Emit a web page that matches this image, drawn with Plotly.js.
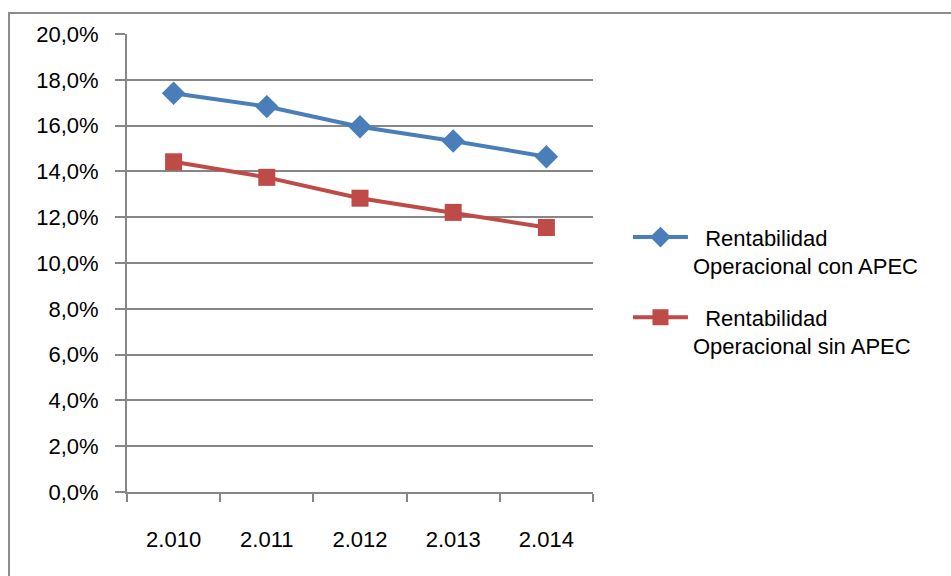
<!DOCTYPE html>
<html><head><meta charset="utf-8">
<script src="https://cdn.plot.ly/plotly-3.0.1.min.js"></script>
<style>
body{margin:0;padding:0;background:#fff;overflow:hidden;}
#frame{position:absolute;left:8px;top:12px;width:1000px;height:700px;border-left:2px solid #8c8c8c;border-top:2px solid #8c8c8c;}
#chart{position:absolute;left:0;top:0;width:951px;height:576px;}
</style></head>
<body>
<div id="frame"></div>
<div id="chart"></div>
<script>
const years = ["2.010", "2.011", "2.012", "2.013", "2.014"];
const conAPEC = [0.1741, 0.1683, 0.1595, 0.1533, 0.1464];
const sinAPEC = [0.1442, 0.1374, 0.1283, 0.1221, 0.1155];
const seriesNames = ["\u00a0\u00a0Rentabilidad<br>Operacional con APEC", "\u00a0\u00a0Rentabilidad<br>Operacional sin APEC"];

const font = "Liberation Sans, Arial, sans-serif";
const traces = [
  {x: years, y: conAPEC, name: seriesNames[0], legendgroup: "a", type: "scatter", mode: "lines+markers",
   line: {color: "#4A7EBB", width: 4}, marker: {symbol: "diamond", size: 18, color: "#4A7EBB"}},
  {x: years, y: sinAPEC, name: seriesNames[1], legendgroup: "b", type: "scatter", mode: "lines+markers",
   line: {color: "#BE4B48", width: 4}, marker: {symbol: "square", size: 17, color: "#BE4B48"}}
];
const layout = {
  width: 951, height: 576,
  margin: {l: 127, r: 358, t: 34, b: 84},
  paper_bgcolor: "rgba(0,0,0,0)", plot_bgcolor: "rgba(0,0,0,0)",
  separators: ",.",
  font: {family: font, size: 22, color: "#000"},
  xaxis: {type: "category", range: [-0.5, 4.5], tickson: "boundaries", ticks: "outside", ticklen: 8,
          tickcolor: "#868686", tickwidth: 2, showgrid: false, showline: true, linecolor: "#868686", linewidth: 2,
          ticklabelstandoff: 27, tickfont: {family: font, size: 22, color: "#000"}, zeroline: false},
  yaxis: {range: [0, 0.2], dtick: 0.02, tickformat: ".1%", ticks: "outside", ticklen: 10,
          tickcolor: "#868686", tickwidth: 2, showgrid: true, gridcolor: "#868686", gridwidth: 2,
          showline: true, linecolor: "#868686", linewidth: 2, zeroline: false,
          ticklabelstandoff: 12, tickfont: {family: font, size: 22, color: "#000"}},
  legend: {x: 1.075, y: 0.602, xanchor: "left", yanchor: "top", valign: "top", itemwidth: 55,
           tracegroupgap: 20, font: {family: font, size: 22, color: "#000"}, bgcolor: "rgba(0,0,0,0)"},
  showlegend: true
};
Plotly.newPlot("chart", traces, layout, {staticPlot: true, displayModeBar: false});
</script>
</body></html>
